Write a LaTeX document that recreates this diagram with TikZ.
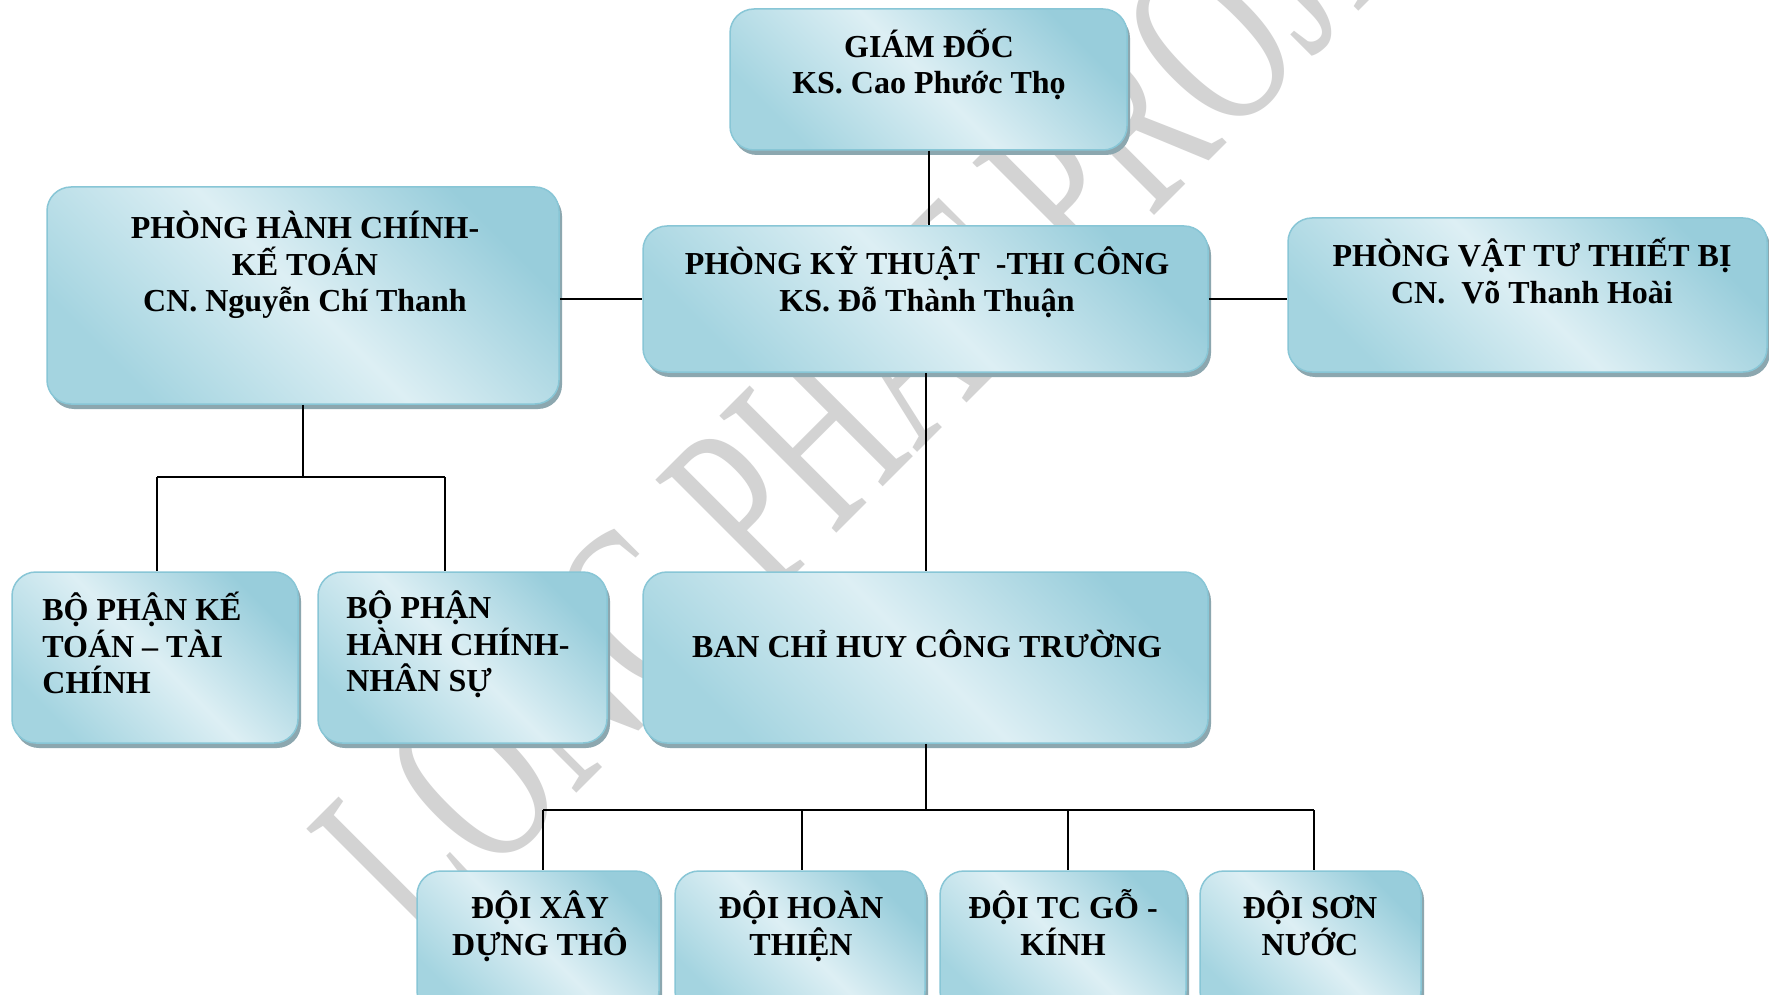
\documentclass[tikz,border=0pt]{standalone}
\usepackage{fontspec}
\setmainfont{Liberation Serif}
\usetikzlibrary{shadows}
\definecolor{boxdk}{HTML}{A4D4E0}
\definecolor{boxdk2}{HTML}{98CDDB}
\definecolor{boxlt}{HTML}{DDEFF4}
\definecolor{boxline}{HTML}{88C6D6}
\definecolor{shadowc}{HTML}{8CA7AF}
\definecolor{wmgray}{HTML}{D3D3D3}
\tikzset{
  orgbox/.style={draw=boxline, line width=0.75pt, rounded corners=12pt,
    left color=boxdk, right color=boxdk2, middle color=boxlt, shading angle=135,
    drop shadow={shadow xshift=1.5pt, shadow yshift=-2.5pt, fill=shadowc, opacity=1},
    inner sep=0pt},
  lbl/.style={inner sep=0pt, font=\fontsize{16}{18.3}\selectfont\bfseries, align=center, anchor=north},
  lbll/.style={inner sep=0pt, font=\fontsize{16}{18.3}\selectfont\bfseries, align=left, anchor=north west},
  conn/.style={draw=black, line width=1pt},
  wm/.style={inner sep=0pt, text=wmgray, font=\fontsize{81.5}{90}\selectfont}
}
\newcommand\rl{\rule{0pt}{17pt}}
\begin{document}
\begin{tikzpicture}[x=0.5pt,y=-0.5pt]
\useasboundingbox (0,0) rectangle (1769,995);
\clip (0,0) rectangle (1769,995);
\fill[white] (0,0) rectangle (1769,995);
% watermark
\node[wm, rotate=45, yscale=1.55, anchor=base west] (wmk) at (420,950) {LONG PHAT PROJECT};
% boxes
\node[orgbox, minimum width=198.5pt, minimum height=70.5pt] (gd) at (928.5,79.5) {};
\node[orgbox, minimum width=256pt, minimum height=108.5pt] (hckt) at (303,295.5) {};
\node[orgbox, minimum width=282.5pt, minimum height=73pt] (kttc) at (925.5,299) {};
\node[orgbox, minimum width=239.5pt, minimum height=77pt] (vt) at (1527.5,295) {};
\node[orgbox, minimum width=143pt, minimum height=85.5pt] (bpkt) at (155,657.5) {};
\node[orgbox, minimum width=144.5pt, minimum height=85.5pt] (bphc) at (462.5,657.5) {};
\node[orgbox, minimum width=282.5pt, minimum height=85.5pt] (bch) at (925.5,657.5) {};
\node[orgbox, minimum width=121pt, minimum height=72pt] (xay) at (538,943) {};
\node[orgbox, minimum width=125pt, minimum height=72pt] (hoan) at (800,943) {};
\node[orgbox, minimum width=123pt, minimum height=72pt] (tc) at (1063,943) {};
\node[orgbox, minimum width=110.5pt, minimum height=72pt] (son) at (1310.5,943) {};
% labels
\node[lbl] (tgd) at (929,23) {\rl GIÁM ĐỐC\\KS. Cao Phước Thọ};
\node[lbl] (thckt) at (305,204) {\rl PHÒNG HÀNH CHÍNH-\\KẾ TOÁN\\CN. Nguyễn Chí Thanh};
\node[lbl] (tkttc) at (927,240) {\rl PHÒNG KỸ THUẬT~~-THI CÔNG\\KS. Đỗ Thành Thuận};
\node[lbl] (tvt) at (1532,232) {\rl PHÒNG VẬT TƯ THIẾT BỊ\\CN.~~Võ Thanh Hoài};
\node[lbll] (tbpkt) at (42,586) {\rl BỘ PHẬN KẾ\\TOÁN – TÀI\\CHÍNH};
\node[lbll] (tbphc) at (346,584) {\rl BỘ PHẬN\\HÀNH CHÍNH-\\NHÂN SỰ};
\node[lbl] (tbch) at (927,623) {\rl BAN CHỈ HUY CÔNG TRƯỜNG};
\node[lbl] (txay) at (540,884) {\rl ĐỘI XÂY\\DỰNG THÔ};
\node[lbl] (thoan) at (801,884) {\rl ĐỘI HOÀN\\THIỆN};
\node[lbl] (ttc) at (1063,884) {\rl ĐỘI TC GỖ -\\KÍNH};
\node[lbl] (tson) at (1310,884) {\rl ĐỘI SƠN\\NƯỚC};
% connectors
\coordinate (hl) at (157,477);
\coordinate (hr) at (445,477);
\coordinate (bl) at (543,810);
\coordinate (b2) at (802,810);
\coordinate (b3) at (1068,810);
\coordinate (br) at (1314,810);
\draw[conn] (gd.south) -- (gd.south |- kttc.north);
\draw[conn] (kttc.west -| hckt.east) -- (kttc.west);
\draw[conn] (kttc.east) -- (kttc.east -| vt.west);
\draw[conn] (hckt.south) -- (hckt.south |- hl);
\draw[conn] (hl) -- (hr);
\draw[conn] (hl) -- (hl |- bpkt.north);
\draw[conn] (hr) -- (hr |- bphc.north);
\draw[conn] (kttc.south) -- (bch.north);
\draw[conn] (bch.south) -- (bch.south |- bl);
\draw[conn] (bl) -- (br);
\draw[conn] (bl) -- (bl |- xay.north);
\draw[conn] (b2) -- (b2 |- hoan.north);
\draw[conn] (b3) -- (b3 |- tc.north);
\draw[conn] (br) -- (br |- son.north);
\end{tikzpicture}
\end{document}
